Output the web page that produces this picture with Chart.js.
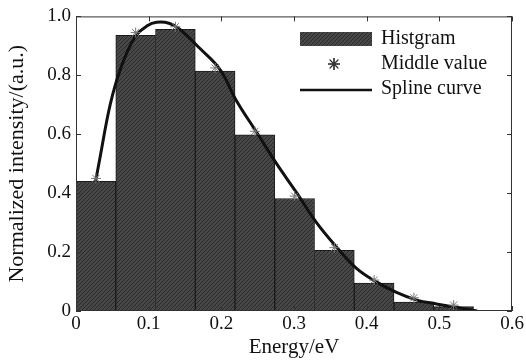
<!DOCTYPE html>
<html>
<head>
<meta charset="utf-8">
<script src="https://cdn.jsdelivr.net/npm/chart.js@4/dist/chart.umd.min.js"></script>
<style>
  body { margin: 0; background: #fff; }
  #wrap { width: 526px; height: 360px; }
</style>
</head>
<body>
<div id="wrap"><canvas id="histChart" width="526" height="360"></canvas></div>
<script>
// Histogram bins (centres, eV) and heights
const binCenters = [0.0274, 0.0821, 0.1368, 0.1915, 0.2462, 0.3009, 0.3556, 0.4103, 0.4650, 0.5197];
const histValues = [0.44, 0.936, 0.956, 0.814, 0.598, 0.382, 0.206, 0.095, 0.030, 0.015];
// Middle values (stars)
const middleValues = [0.45, 0.945, 0.965, 0.825, 0.61, 0.39, 0.215, 0.105, 0.045, 0.02];
// Spline curve
const splineX = [0.027, 0.033, 0.047, 0.061, 0.081, 0.098, 0.111, 0.129, 0.143, 0.171, 0.198, 0.221, 0.249, 0.276, 0.304, 0.331, 0.359, 0.386, 0.414, 0.441, 0.469, 0.496, 0.524, 0.552];
const splineY = [0.44, 0.52, 0.70, 0.82, 0.93, 0.968, 0.98, 0.976, 0.956, 0.89, 0.82, 0.713, 0.605, 0.50, 0.40, 0.30, 0.216, 0.145, 0.098, 0.063, 0.037, 0.024, 0.012, 0.0];
// Tick labels
const xTickLabels = ['0', '0.1', '0.2', '0.3', '0.4', '0.5', '0.6'];
const yTickLabels = ['0', '0.2', '0.4', '0.6', '0.8', '1.0'];

const serif = '"Liberation Serif", "Times New Roman", serif';
Chart.defaults.font.family = serif;
Chart.defaults.color = '#111';

// dark textured fill for the bars
function makePattern() {
    const c = document.createElement('canvas');
    c.width = 4; c.height = 4;
    const g = c.getContext('2d');
    g.fillStyle = '#474747';
    g.fillRect(0, 0, 4, 4);
    g.fillStyle = '#2c2c2c';
    g.fillRect(0, 3, 1, 1);
    g.fillRect(1, 2, 1, 1);
    g.fillRect(2, 1, 1, 1);
    g.fillRect(3, 0, 1, 1);
    return g.createPattern(c, 'repeat');
}
const barFill = makePattern();

// box frame with inward ticks
const frameTicks = {
    id: 'frameTicks',
    afterDraw(chart) {
        const ctx = chart.ctx;
        const a = chart.chartArea;
        const xs = chart.scales.x, ys = chart.scales.y;
        ctx.save();
        ctx.strokeStyle = '#333';
        ctx.lineWidth = 1;
        ctx.strokeRect(a.left + 0.5, a.top + 0.5, a.right - a.left - 1, a.bottom - a.top - 1);
        ctx.beginPath();
        xs.ticks.forEach(t => {
            const px = Math.round(xs.getPixelForValue(t.value)) + 0.5;
            ctx.moveTo(px, a.bottom); ctx.lineTo(px, a.bottom - 5);
            ctx.moveTo(px, a.top); ctx.lineTo(px, a.top + 5);
        });
        ys.ticks.forEach(t => {
            const py = Math.round(ys.getPixelForValue(t.value)) + 0.5;
            ctx.moveTo(a.left, py); ctx.lineTo(a.left + 5, py);
            ctx.moveTo(a.right, py); ctx.lineTo(a.right - 5, py);
        });
        ctx.stroke();
        ctx.restore();
    }
};

// legend drawn inside the plot, upper right
const innerLegend = {
    id: 'innerLegend',
    afterDraw(chart) {
        const ctx = chart.ctx;
        ctx.save();
        ctx.fillStyle = barFill;
        ctx.fillRect(300, 32, 72, 14);
        Chart.helpers.drawPoint(ctx, { pointStyle: 'star', radius: 6, rotation: 0, borderWidth: 1 }, 334, 64);
        ctx.strokeStyle = '#333';
        ctx.lineWidth = 1.2;
        ctx.stroke();
        ctx.beginPath();
        ctx.moveTo(300, 90);
        ctx.lineTo(372, 90);
        ctx.strokeStyle = '#111';
        ctx.lineWidth = 2.5;
        ctx.stroke();
        ctx.fillStyle = '#111';
        ctx.font = '20px ' + serif;
        ctx.textBaseline = 'middle';
        ctx.fillText('Histgram', 381, 39);
        ctx.fillText('Middle value', 381, 64);
        ctx.fillText('Spline curve', 381, 89);
        ctx.restore();
    }
};

const ctx = document.getElementById('histChart').getContext('2d');
new Chart(ctx, {
    data: {
        datasets: [{
            type: 'scatter',
            label: 'Middle value',
            data: binCenters.map((x, i) => ({ x: x, y: middleValues[i] })),
            pointStyle: 'star',
            pointRadius: 5,
            borderColor: '#777',
            borderWidth: 1,
            order: 0
        }, {
            type: 'line',
            label: 'Spline curve',
            data: splineX.map((x, i) => ({ x: x, y: splineY[i] })),
            borderColor: '#111',
            borderWidth: 3,
            pointRadius: 0,
            tension: 0.4,
            fill: false,
            order: 1
        }, {
            type: 'bar',
            label: 'Histgram',
            data: binCenters.map((x, i) => ({ x: x, y: histValues[i] })),
            backgroundColor: barFill,
            borderColor: '#1a1a1a',
            borderWidth: 1,
            barPercentage: 1,
            categoryPercentage: 1,
            order: 2
        }]
    },
    options: {
        responsive: false,
        animation: false,
        layout: {
            padding: { top: 15, right: 14, left: 0, bottom: 0 }
        },
        plugins: {
            legend: { display: false },
            tooltip: { enabled: false }
        },
        scales: {
            x: {
                type: 'linear',
                offset: false,
                min: 0,
                max: 0.6,
                grid: { display: false, drawTicks: false },
                border: { display: false },
                ticks: {
                    stepSize: 0.1,
                    padding: 2,
                    font: { size: 19 },
                    callback: function(value, index) {
                        return xTickLabels[index];
                    }
                },
                title: {
                    display: true,
                    text: 'Energy/eV',
                    font: { size: 21 },
                    padding: { top: 0, bottom: 0 }
                },
                afterFit: function(axis) { axis.height = 49; }
            },
            y: {
                min: 0,
                max: 1,
                grid: { display: false, drawTicks: false },
                border: { display: false },
                ticks: {
                    stepSize: 0.2,
                    padding: 5,
                    font: { size: 19 },
                    callback: function(value, index) {
                        return yTickLabels[index];
                    }
                },
                title: {
                    display: true,
                    text: 'Normalized intensity/(a.u.)',
                    font: { size: 22 },
                    padding: { top: 4, bottom: 2 }
                },
                afterFit: function(axis) { axis.width = 76; }
            }
        }
    },
    plugins: [frameTicks, innerLegend]
});
</script>
</body>
</html>
